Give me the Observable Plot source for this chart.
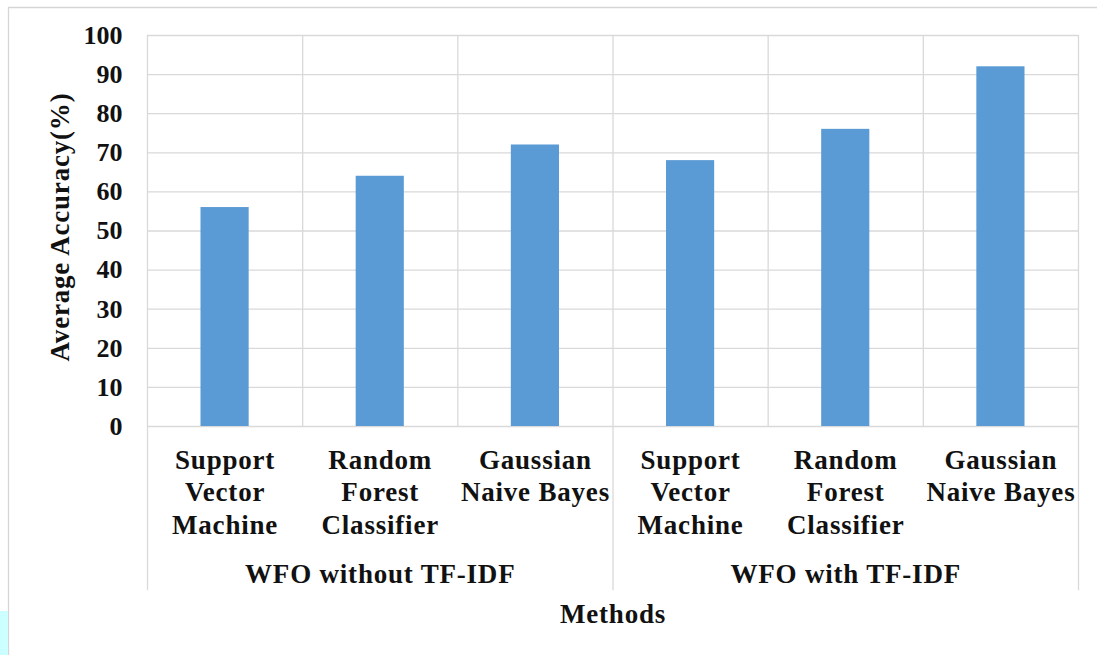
<!DOCTYPE html>
<html>
<head>
<meta charset="utf-8">
<script src="https://cdn.jsdelivr.net/npm/d3@7"></script>
<script src="https://cdn.jsdelivr.net/npm/@observablehq/plot@0.6"></script>
<style>
  html, body { margin: 0; padding: 0; background: #fff; }
  #chart { position: relative; width: 1097px; height: 655px; overflow: hidden; }
  #chart svg text { font-family: "Liberation Serif", "Times New Roman", serif; font-weight: bold; }
  #chart svg .spaced text { letter-spacing: 0.8px; }
</style>
</head>
<body>
<div id="chart"></div>
<script>
// Feature groups and the classifiers evaluated in each
const groups = ["WFO without TF-IDF", "WFO with TF-IDF"];
const methods = ["Support\nVector\nMachine", "Random\nForest\nClassifier", "Gaussian\nNaive Bayes"];
// Average accuracy (%) per classifier, first group then second group
const accuracy = [56, 64, 72, 68, 76, 92];
const yTicks = [0, 10, 20, 30, 40, 50, 60, 70, 80, 90, 100];

// One record per bar, positioned on a unit-width slot along x
const rows = accuracy.map((v, i) => ({
  slot: i,
  group: groups[Math.floor(i / methods.length)],
  method: methods[i % methods.length],
  value: v
}));
const groupRows = groups.map((g, k) => ({group: g, mid: k * methods.length + methods.length / 2}));
const slotEdges = d3.range(rows.length + 1);
const groupEdges = d3.range(groups.length + 1).map(k => k * methods.length);

const font = "Liberation Serif";
const ink = "#111";
const textStyle = {fill: ink, fontFamily: font, fontWeight: "bold"};

const plot = Plot.plot({
  width: 1097,
  height: 655,
  marginLeft: 147,
  marginRight: 19,
  marginTop: 35,
  marginBottom: 229,
  style: {fontFamily: font, fontWeight: "bold", fontSize: "26px", color: ink, background: "#fff", overflow: "visible"},
  x: {domain: [0, rows.length], axis: null},
  y: {domain: [0, 100], axis: null},
  marks: [
    // horizontal gridlines
    Plot.ruleY(yTicks, {stroke: "#d9d9d9", strokeWidth: 1.3}),
    // vertical separators between bars inside the plot
    Plot.ruleX(slotEdges, {y1: 0, y2: 100, stroke: "#d9d9d9", strokeWidth: 1.3}),
    // group separators reach down through the category labels
    Plot.ruleX(groupEdges, {y1: 0, y2: -42, stroke: "#d9d9d9", strokeWidth: 1.3, clip: false}),
    // bars
    Plot.rectY(rows, {x: "slot", interval: 1, y: "value", fill: "#5b9bd5", insetLeft: 53.5, insetRight: 53.5}),
    // y tick labels
    Plot.text(yTicks, {x: 0, y: d => d, text: d => String(d), textAnchor: "end", dx: -25, fontSize: 26, ...textStyle}),
    // y axis title
    Plot.text(["Average Accuracy(%)"], {frameAnchor: "left", textAnchor: "middle", dx: -87, dy: -4, rotate: -90, fontSize: 27, className: "spaced", ...textStyle}),
    // classifier labels
    Plot.text(rows, {x: d => d.slot + 0.5, text: "method", frameAnchor: "bottom", dy: 20, lineAnchor: "top", lineHeight: 1.19, fontSize: 27, className: "spaced", ...textStyle}),
    // group labels
    Plot.text(groupRows, {x: "mid", text: "group", frameAnchor: "bottom", dy: 156, fontSize: 27, className: "spaced", ...textStyle}),
    // x axis title
    Plot.text(["Methods"], {frameAnchor: "bottom", dy: 196, fontSize: 27, className: "spaced", ...textStyle})
  ]
});

// thin outer chart border along top and left
const svg = d3.select(plot);
svg.append("line").attr("x1", 8).attr("x2", 1097).attr("y1", 7.5).attr("y2", 7.5).attr("stroke", "#d6d6d6").attr("stroke-width", 1.3);
svg.append("line").attr("x1", 8.5).attr("x2", 8.5).attr("y1", 7).attr("y2", 655).attr("stroke", "#d6d6d6").attr("stroke-width", 1.3);
svg.append("rect").attr("x", 0).attr("y", 611).attr("width", 8).attr("height", 44).attr("fill", "#ccffff");

document.getElementById("chart").appendChild(plot);
</script>
</body>
</html>
